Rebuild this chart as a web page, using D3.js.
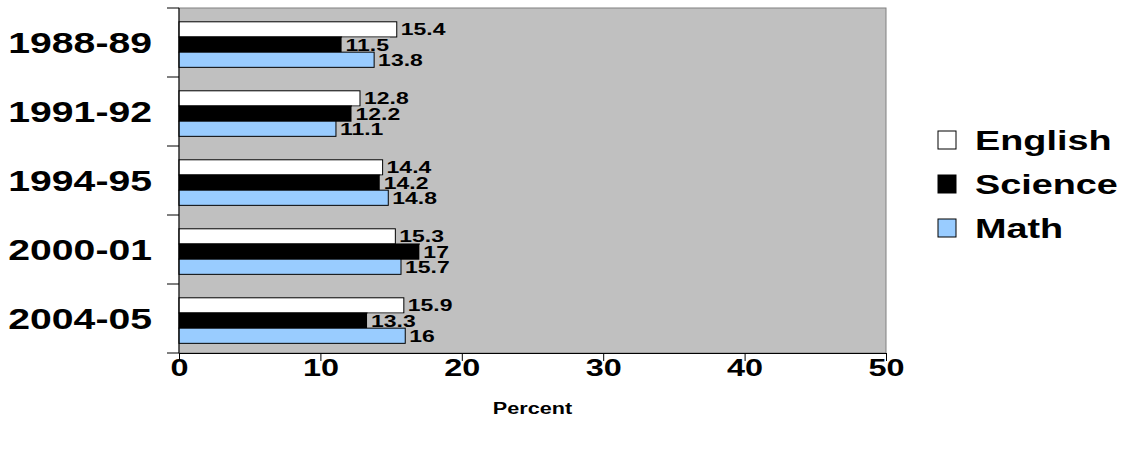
<!DOCTYPE html>
<html><head><meta charset="utf-8">
<script src="https://cdn.jsdelivr.net/npm/d3@7"></script>
<style>body{margin:0;background:#fff;font-family:"Liberation Sans",Arial,sans-serif;font-weight:bold}</style>
</head><body>
<script>
const years = ['1988-89', '1991-92', '1994-95', '2000-01', '2004-05'];
const subjects = ['English', 'Science', 'Math'];
const english = [15.4, 12.8, 14.4, 15.3, 15.9];
const science = [11.5, 12.2, 14.2, 17, 13.3];
const math = [13.8, 11.1, 14.8, 15.7, 16];
const xTicks = [0, 10, 20, 30, 40, 50];
const colors = ['#ffffff', '#000000', '#99ccff'];
const series = [english, science, math];

const svg = d3.select('body').append('svg').attr('width', 1139).attr('height', 449);
const pLeft = 179, pRight = 886, pTop = 8, pBottom = 353;
const stretch = 1.35;

function widen(sel) {
  sel.each(function () {
    const w = this.getComputedTextLength();
    d3.select(this).attr('textLength', w * stretch).attr('lengthAdjust', 'spacingAndGlyphs');
  });
  return sel;
}

const x = d3.scaleLinear().domain([0, 50]).range([pLeft, pRight]);
const y = d3.scaleBand().domain(years).range([pTop, pBottom]);
const inner = d3.scaleBand().domain(subjects).range([y.bandwidth() * 0.2, y.bandwidth() * 0.86]);

svg.append('rect').attr('x', pLeft).attr('y', pTop).attr('width', pRight - pLeft).attr('height', pBottom - pTop)
  .attr('fill', '#c0c0c0').attr('stroke', '#808080');

years.forEach((yr, i) => {
  subjects.forEach((s, j) => {
    const v = series[j][i];
    const by = y(yr) + inner(s);
    svg.append('rect').attr('x', x(0)).attr('y', by).attr('width', x(v) - x(0)).attr('height', inner.bandwidth())
      .attr('fill', colors[j]).attr('stroke', '#000').attr('stroke-width', 1);
    const t = svg.append('text').attr('x', x(v) + 4).attr('y', by + inner.bandwidth() / 2 + 6)
      .attr('font-size', 17).text(v);
    widen(t);
    if (j === 1) {
      const bb = t.node().getBBox();
      svg.insert('rect', () => t.node()).attr('x', x(v)).attr('y', bb.y + 2).attr('width', bb.width + 5).attr('height', bb.height - 3)
        .attr('fill', '#c0c0c0');
    }
  });
});

const xAxis = svg.append('g').attr('transform', `translate(0,${pBottom})`)
  .call(d3.axisBottom(x).tickValues(xTicks).tickSize(8).tickPadding(-2));
xAxis.select('.domain').attr('stroke', '#000');
widen(xAxis.selectAll('text').attr('font-size', 24).attr('font-weight', 'bold')
  .attr('font-family', '"Liberation Sans",Arial,sans-serif').attr('fill', '#000'));

// category axis with ticks at band boundaries
svg.append('line').attr('x1', pLeft).attr('x2', pLeft).attr('y1', pTop).attr('y2', pBottom).attr('stroke', '#000');
years.concat(['end']).forEach((yr, i) => {
  const ty = pTop + i * y.step();
  svg.append('line').attr('x1', pLeft - 12).attr('x2', pLeft).attr('y1', ty).attr('y2', ty).attr('stroke', '#000');
});
years.forEach(yr => {
  widen(svg.append('text').attr('x', 152).attr('y', y(yr) + y.bandwidth() / 2 + 10).attr('text-anchor', 'end')
    .attr('font-size', 29).text(yr));
});

widen(svg.append('text').attr('x', (pLeft + pRight) / 2).attr('y', 414).attr('text-anchor', 'middle')
  .attr('font-size', 16).text('Percent'));

subjects.forEach((s, j) => {
  const ly = 131 + j * 44;
  svg.append('rect').attr('x', 938).attr('y', ly).attr('width', 18).attr('height', 18)
    .attr('fill', colors[j]).attr('stroke', '#000');
  widen(svg.append('text').attr('x', 975).attr('y', ly + 19).attr('font-size', 28).text(s));
});
</script>
</body></html>
